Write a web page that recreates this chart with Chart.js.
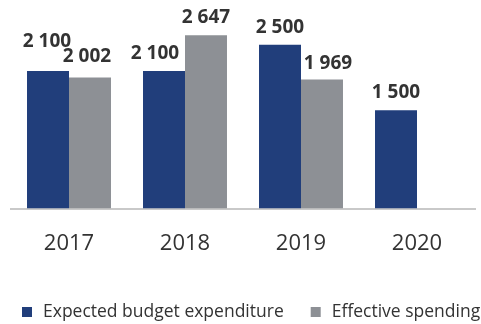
<!DOCTYPE html>
<html>
<head>
<meta charset="utf-8">
<script src="https://cdn.jsdelivr.net/npm/chart.js@4/dist/chart.umd.min.js"></script>
<style>
  html, body { margin: 0; padding: 0; background: #fff; overflow: hidden; }
  canvas { display: block; }
</style>
</head>
<body>
<canvas id="grafica" width="481" height="324"></canvas>
<script>
const years = ['2017', '2018', '2019', '2020'];
const expected = [2100, 2100, 2500, 1500];
const effective = [2002, 2647, 1969, null];
const seriesNames = ['Expected budget expenditure', 'Effective spending'];

const blue = '#213e7b';
const grey = '#8d9095';
const textColor = '#333333';

// "2 100" style thousands grouping
const fmt = v => String(v).replace(/\B(?=(\d{3})+(?!\d))/g, ' ');

// small nudges so neighbouring labels don't collide  [dataset][index] -> [dx, dy]
const labelNudge = {
    '0-0': [-1, 12],
    '1-0': [-3, 3],
    '0-1': [-9, 0],
    '1-2': [6, -1]
};

const valueLabels = {
    id: 'valueLabels',
    afterDatasetsDraw(chart) {
        const ctx = chart.ctx;
        ctx.save();
        ctx.font = 'bold 19px "Open Sans"';
        ctx.fillStyle = textColor;
        ctx.textAlign = 'center';
        ctx.textBaseline = 'alphabetic';
        chart.data.datasets.forEach((ds, di) => {
            chart.getDatasetMeta(di).data.forEach((bar, i) => {
                const v = ds.data[i];
                if (v == null) return;
                const n = labelNudge[di + '-' + i] || [0, 0];
                ctx.fillText(fmt(v), bar.x + n[0], bar.y - 12 - n[1]);
            });
        });
        ctx.restore();
    }
};

const bottomLegend = {
    id: 'bottomLegend',
    afterDraw(chart) {
        const ctx = chart.ctx;
        ctx.save();
        ctx.font = '17.5px "Open Sans"';
        ctx.textBaseline = 'middle';
        ctx.textAlign = 'left';
        let x = 22;
        const y = 312;
        chart.data.datasets.forEach(ds => {
            ctx.fillStyle = ds.backgroundColor;
            ctx.fillRect(x, y - 5, 10, 10);
            ctx.fillStyle = textColor;
            ctx.fillText(ds.label, x + 21, y);
            x += 21 + ctx.measureText(ds.label).width + 27;
        });
        ctx.restore();
    }
};

new Chart(document.getElementById('grafica'), {
    type: 'bar',
    data: {
        labels: years,
        datasets: [
            { label: seriesNames[0], data: expected, backgroundColor: blue },
            { label: seriesNames[1], data: effective, backgroundColor: grey }
        ]
    },
    options: {
        responsive: false,
        animation: false,
        layout: { padding: { top: 12, left: 11, right: 6, bottom: 53 } },
        datasets: { bar: { categoryPercentage: 0.724, barPercentage: 1 } },
        plugins: {
            legend: { display: false },
            tooltip: { enabled: false }
        },
        scales: {
            x: {
                grid: { display: false },
                border: { display: true, color: '#c9c9c9', width: 2 },
                ticks: {
                    color: textColor,
                    padding: 14,
                    font: { family: '"Open Sans"', size: 22 }
                }
            },
            y: { display: false, min: 0, max: 3000 }
        }
    },
    plugins: [valueLabels, bottomLegend]
});
</script>
</body>
</html>
